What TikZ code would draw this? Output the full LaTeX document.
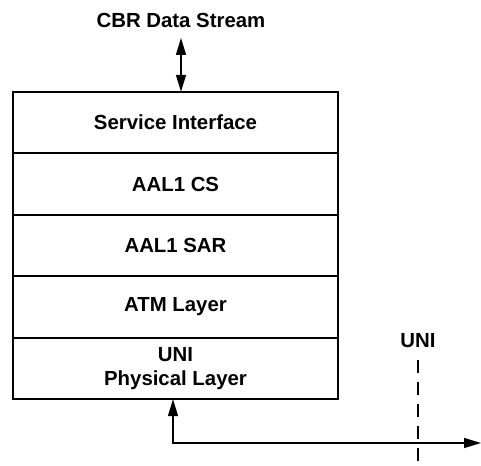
\documentclass[tikz,border=0pt]{standalone}
\usepackage{fontspec}
\setmainfont{Liberation Sans}
\usetikzlibrary{positioning,arrows.meta}
\tikzset{
  layer/.style={draw, line width=1.3pt, minimum width=6.5cm, minimum height=1.23cm,
    inner sep=0pt, outer sep=0pt, align=center, font=\fontsize{11.6}{13.8}\selectfont\bfseries},
  lbl/.style={inner sep=0pt, font=\fontsize{11.6}{13.8}\selectfont\bfseries},
  link/.style={line width=0.8pt, {Triangle[length=0.34cm,width=0.2cm]}-{Triangle[length=0.34cm,width=0.2cm]}},
  uniline/.style={line width=0.8pt, dash pattern=on 0.26cm off 0.18cm}
}
\begin{document}
\begin{tikzpicture}[x=0.02cm, y=-0.02cm]
\useasboundingbox (0,0) rectangle (481,466);

% protocol stack
\node[layer] (svc) at (175.5,122.5) {Service Interface};
\node[layer, below=0pt of svc] (cs) {AAL1 CS};
\node[layer, below=0pt of cs] (sar) {AAL1 SAR};
\node[layer, below=0pt of sar] (atm) {ATM Layer};
\node[layer, below=0pt of atm] (phy) {UNI\\Physical Layer};

% data stream on top
\node[lbl] (cbr) at (181,20) {CBR Data Stream};
\coordinate (cbrend) at (181,38);
\draw[link] (cbrend) -- (cbrend |- svc.north);

% line out of the physical layer
\coordinate (tap) at (173,443);
\coordinate (out) at (481,443);
\draw[link] (phy.south -| tap) |- (out);

% UNI reference point
\node[lbl] (uni) at (418,341) {UNI};
\coordinate (unitop) at (418,360);
\coordinate (unibot) at (418,466);
\draw[uniline] (unitop) -- (unibot);
\end{tikzpicture}
\end{document}
